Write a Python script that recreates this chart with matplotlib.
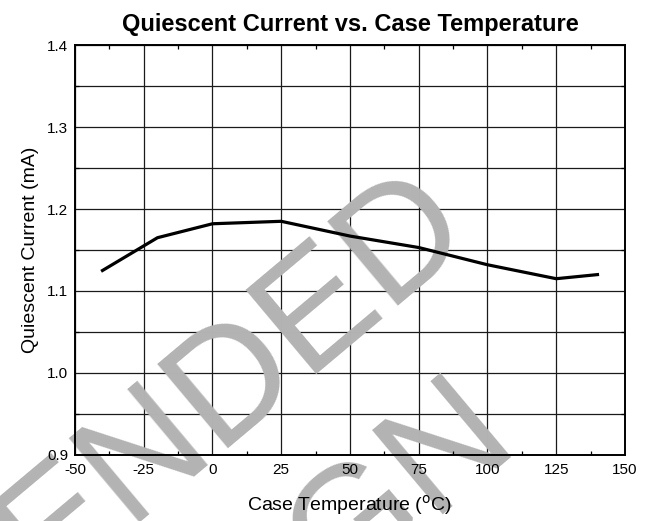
import numpy as np
import matplotlib.pyplot as plt
from matplotlib.ticker import MultipleLocator

plt.rcParams['font.family'] = ['Liberation Sans', 'DejaVu Sans']
plt.rcParams['axes.unicode_minus'] = False

# datos
temp_c = [-40, -20, 0, 25, 50, 75, 100, 125, 140]
iq_ma = [1.125, 1.165, 1.182, 1.185, 1.167, 1.153, 1.132, 1.115, 1.120]

x_ticks = [-50, -25, 0, 25, 50, 75, 100, 125, 150]
y_ticks = [0.9, 1.0, 1.1, 1.2, 1.3, 1.4]
y_grid = np.arange(0.9, 1.401, 0.05)

fig = plt.figure(figsize=(6.56, 5.21), dpi=100)
ax = fig.add_axes([0.1143, 0.1267, 0.8384, 0.7869])

ax.set_xlim(-50, 150)
ax.set_ylim(0.9, 1.4)
ax.set_xticks(x_ticks)
ax.set_yticks(y_ticks)
ax.set_yticklabels([f"{v:.1f}" for v in y_ticks])
ax.xaxis.set_minor_locator(MultipleLocator(12.5))
ax.yaxis.set_minor_locator(MultipleLocator(0.05))
ax.set_axisbelow(False)  # textos de ejes encima de la marca de agua
ax.tick_params(which='both', direction='in', top=True, right=True,
               length=3, width=0.9, labelsize=11)
ax.tick_params(which='major', length=0)
ax.tick_params(axis='y', pad=5)
ax.tick_params(axis='x', pad=6)
for s in ax.spines.values():
    s.set_linewidth(1.4)
    s.set_zorder(4)

# grilla a mano para que quede debajo de la marca de agua
for v in x_ticks:
    ax.axvline(v, color='#1a1a1a', linewidth=0.9, zorder=1)
for v in y_grid:
    ax.axhline(v, color='#1a1a1a', linewidth=0.9, zorder=1)

# marca de agua (encima de la grilla, debajo de la curva y los textos)
wm = dict(rotation=40, fontsize=115, color='#b3b3b3', ha='right',
          va='center', rotation_mode='anchor', transform=fig.transFigure,
          clip_on=False, zorder=2)
ax.text(0.686, 0.601, "NOT RECOMMENDED", **wm)
ax.text(0.755, 0.200, "FOR NEW DESIGN", **wm)

ax.plot(temp_c, iq_ma, color='black', linewidth=2.3, zorder=5)

ax.set_title("Quiescent Current vs. Case Temperature", fontsize=17,
             fontweight='bold', pad=10)
ax.set_xlabel("Case Temperature ($^{\\rm o}$C)", fontsize=14, labelpad=11)
ax.set_ylabel("Quiescent Current (mA)", fontsize=14, labelpad=6)

fig.savefig("out.png", dpi=100)
